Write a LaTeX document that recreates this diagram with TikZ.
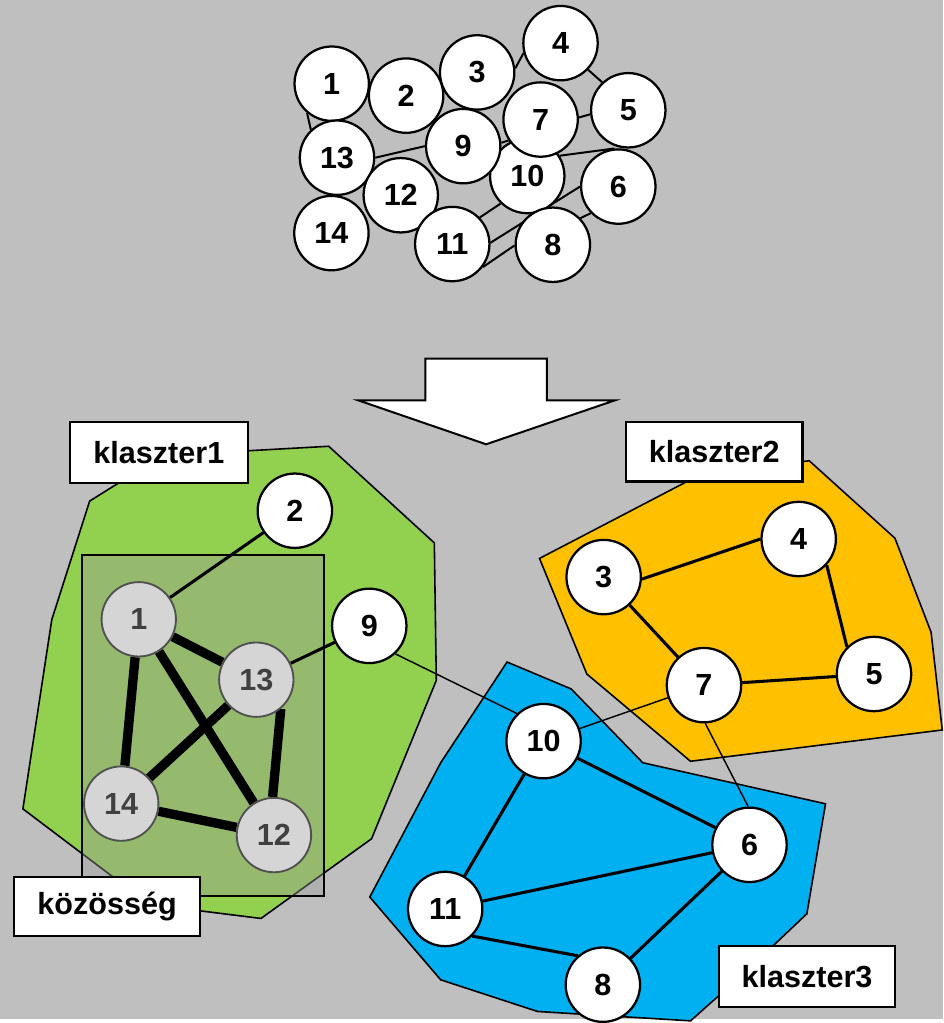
\documentclass[tikz,border=0pt]{standalone}
\usepackage{fontspec}
\setmainfont{Liberation Sans}
\usepackage{xcolor}
\usepackage{tikz}
\definecolor{bggray}{RGB}{191,191,191}
\definecolor{klgreen}{RGB}{146,208,80}
\definecolor{klorange}{RGB}{255,192,0}
\definecolor{klblue}{RGB}{0,176,240}
\definecolor{veilgray}{RGB}{155,155,155}
\definecolor{commfill}{RGB}{213,213,213}
\definecolor{commdraw}{RGB}{80,80,80}
\definecolor{commtext}{RGB}{64,64,64}
\pgfdeclarelayer{back}
\pgfdeclarelayer{edges}
\pgfsetlayers{back,edges,main}

\begin{document}
\begin{tikzpicture}[x=0.75pt, y=-0.75pt,
    vertex/.style={circle, draw, fill=white, line width=1.7pt, minimum size=56pt,
      inner sep=0pt, font=\fontsize{23}{27}\selectfont\bfseries},
    commvertex/.style={vertex, fill=commfill, draw=commdraw, text=commtext, line width=1.4pt},
    tagbox/.style={draw, fill=white, line width=1.6pt, inner sep=0pt,
      font=\fontsize{23}{27}\selectfont\bfseries},
    cluster/.style={draw=black, line width=1.2pt, line join=miter},
    topedge/.style={line width=1.5pt},
    thinedge/.style={line width=1.1pt},
    clusteredge/.style={line width=2.3pt},
    commedge/.style={line width=7pt}]

      \begin{pgfonlayer}{back}
        \fill[bggray] (0,0) rectangle (947,1023);
        \useasboundingbox (0,0) rectangle (947,1023);

        % Clusters
        \path[fill=klgreen, cluster] (90,503) -- (52,622) -- (23,812) -- (150,908) -- (262,922)
          -- (373,842) -- (438,683) -- (436,545) -- (330,448) -- (240,453) -- (130,478) -- cycle;
        \path[fill=klorange, cluster] (541.6,560.6) -- (700,478) -- (812.3,462.5) -- (898.4,540.3)
          -- (934.7,634.7) -- (945.9,732.8) -- (693.2,764.2) -- (589.1,676.6) -- cycle;
        \path[fill=klblue, cluster] (509,664.6) -- (573.4,691.6) -- (645.3,765.7) -- (828.7,806.9)
          -- (810,917.3) -- (748,976) -- (693.2,1024.8) -- (539.7,1015.4) -- (442.4,983.6)
          -- (371.2,900.5) -- (442.4,765.7) -- cycle;

        % Community
        \draw[line width=1.5pt, fill=veilgray, fill opacity=0.4] (82.7,556.7) rectangle (325,899);

        % Arrow
        \draw[line width=1.5pt, fill=white] (427,360) -- (549,360) -- (549,402) -- (617,402)
          -- (488,446) -- (360,402) -- (427,402) -- cycle;
      \end{pgfonlayer}

      % Input graph
      \foreach \n/\x/\y in {1/333/84, 2/407.7/96, 3/479/72.7, 4/562.7/43.3, 5/630.7/110.7,
          6/620.7/187.3, 10/529.3/176.7, 7/542.7/120, 9/465/146.7, 13/338.3/158.3,
          12/402.3/196, 14/332.7/234, 11/454/245, 8/555/245.7}
        \node[vertex] (t\n) at (\x,\y) {\n};

      \begin{pgfonlayer}{edges}
        \foreach \a/\b in {t1.230/t13.133, t3.6/t4.195, t4.316/t5.133, t7.3/t5.186,
            t13.0/t9.180, t10.32/t6.96, t11.44/t10.226, t11.2/t6.180, t11.-37/t8.181,
            t8.44/t6.224, t9.5/t7.213}
          \draw[topedge] (\a) -- (\b);
      \end{pgfonlayer}

      % Clustered graph
      \foreach \n/\x/\y in {2/296/512.7, 9/370.7/628.3, 3/606/579.3, 4/801.8/541.1,
          5/877.4/676.6, 7/706.7/687.8, 10/545.7/744, 6/752.4/848.1, 11/446.9/912.5,
          8/605.2/988.5}
        \node[vertex] (k\n) at (\x,\y) {\n};
      \foreach \n/\x/\y in {1/139.3/621.7, 13/257.3/682.3, 14/121.7/806.7, 12/275/838.3}
        \node[commvertex] (k\n) at (\x,\y) {\n};

      \begin{pgfonlayer}{edges}
        \foreach \a/\b in {k1/k13, k1/k14, k1/k12, k13/k14, k13.-50/k12.92, k14/k12}
          \draw[commedge] (\a) -- (\b);
        \foreach \a/\b in {k2/k1, k9/k13, k3.-3/k4.180, k3/k7, k4.-43/k5.135, k7/k5,
            k10/k11, k10/k6, k11/k6, k11.-45/k8.131, k8/k6}
          \draw[clusteredge] (\a) -- (\b);
        \foreach \a/\b in {k9.-47/k10.134, k7/k10, k7.-88/k6.92}
          \draw[thinedge] (\a) -- (\b);
      \end{pgfonlayer}

      % Labels
      \node[tagbox, minimum width=134pt, minimum height=46pt] (klaszter1) at (159.5,454.5) {klaszter1};
      \node[tagbox, minimum width=133pt, minimum height=44.5pt] (klaszter2) at (717,453.7) {klaszter2};
      \node[tagbox, minimum width=133pt, minimum height=46pt] (klaszter3) at (810.2,980.5) {klaszter3};
      \node[tagbox, minimum width=140pt, minimum height=45pt] (kozosseg) at (107.5,910) {közösség};
    \end{tikzpicture}
\end{document}
